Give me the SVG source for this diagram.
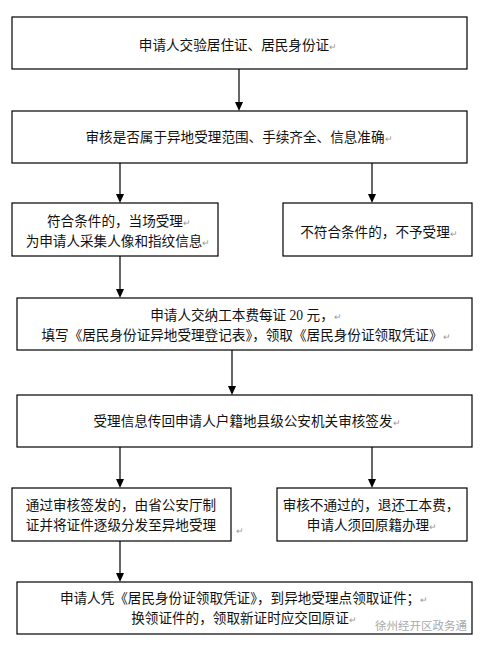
<svg xmlns="http://www.w3.org/2000/svg" width="485" height="646" viewBox="0 0 485 646">
<defs>
<marker id="ah" markerWidth="8" markerHeight="9" refX="4" refY="9" orient="auto-start-reverse" markerUnits="userSpaceOnUse" viewBox="0 0 8 9">
<path d="M0,0 L8,0 L4,9 Z" fill="#000" transform="rotate(0)"/>
</marker>
<style>
.box{fill:#fff;stroke:#000;stroke-width:1.2}
.t{font-family:"Liberation Serif","Noto Sans CJK SC",serif;font-size:13.6px;fill:#111;text-anchor:middle}
.m{font-size:9px;fill:#999}
.c{stroke:#000;stroke-width:1.2;fill:none}
.wm{font-family:"Noto Sans CJK SC",sans-serif;font-size:11.5px;fill:#aaa}
</style>
</defs>
<rect width="485" height="646" fill="#fff"/>
<g id="connectors">
<line class="c" x1="239" y1="69" x2="239" y2="103"/><path d="M235,102 L243,102 L239,111 Z"/>
<line class="c" x1="120" y1="163" x2="120" y2="195"/><path d="M116,194 L124,194 L120,203 Z"/>
<line class="c" x1="372" y1="163" x2="372" y2="195"/><path d="M368,194 L376,194 L372,203 Z"/>
<line class="c" x1="120" y1="256" x2="120" y2="290"/><path d="M116,289 L124,289 L120,298 Z"/>
<line class="c" x1="232" y1="350" x2="232" y2="387"/><path d="M228,386 L236,386 L232,395 Z"/>
<line class="c" x1="120" y1="447" x2="120" y2="480"/><path d="M116,479 L124,479 L120,488 Z"/>
<line class="c" x1="372" y1="447" x2="372" y2="480"/><path d="M368,479 L376,479 L372,488 Z"/>
<line class="c" x1="120" y1="541" x2="120" y2="574"/><path d="M116,573 L124,573 L120,582 Z"/>
</g>
<g id="n1"><rect class="box" x="12" y="17" width="455" height="52"/>
<text class="t" x="238" y="50">申请人交验居住证、居民身份证<tspan class="m">↵</tspan></text></g>
<g id="n2"><rect class="box" x="12" y="111" width="455" height="52"/>
<text class="t" x="239" y="142">审核是否属于异地受理范围、手续齐全、信息准确<tspan class="m">↵</tspan></text></g>
<g id="n3"><rect class="box" x="12" y="203" width="206" height="53"/>
<text class="t" x="119" y="226">符合条件的，当场受理<tspan class="m">↵</tspan></text>
<text class="t" x="118" y="246">为申请人采集人像和指纹信息<tspan class="m">↵</tspan></text></g>
<g id="n4"><rect class="box" x="283" y="203" width="189" height="53"/>
<text class="t" x="379" y="237">不符合条件的，不予受理<tspan class="m">↵</tspan></text></g>
<g id="n5"><rect class="box" x="17" y="298" width="455" height="52"/>
<text class="t" x="246" y="320">申请人交纳工本费每证 20 元，<tspan class="m">↵</tspan></text>
<text class="t" x="246" y="340">填写《居民身份证异地受理登记表》，领取《居民身份证领取凭证》<tspan class="m">↵</tspan></text></g>
<g id="n6"><rect class="box" x="17" y="395" width="455" height="52"/>
<text class="t" x="247" y="426">受理信息传回申请人户籍地县级公安机关审核签发<tspan class="m">↵</tspan></text></g>
<g id="n7"><rect class="box" x="12" y="488" width="219" height="53"/>
<text class="t" x="121" y="510">通过审核签发的，由省公安厅制</text>
<text class="t" x="121" y="530">证并将证件逐级分发至异地受理</text>
<text class="t m" x="240" y="534">↵</text></g>
<g id="n8"><rect class="box" x="277" y="488" width="190" height="53"/>
<text class="t" x="371" y="510">审核不通过的，退还工本费，</text>
<text class="t" x="372" y="530">申请人须回原籍办理<tspan class="m">↵</tspan></text></g>
<g id="n9"><rect class="box" x="17" y="582" width="455" height="52"/>
<text class="t" x="244" y="603">申请人凭《居民身份证领取凭证》，到异地受理点领取证件；<tspan class="m">↵</tspan></text>
<text class="t" x="244" y="623">换领证件的，领取新证时应交回原证<tspan class="m">↵</tspan></text></g>
<text class="wm" x="375" y="630">徐州经开区政务通</text>
</svg>
